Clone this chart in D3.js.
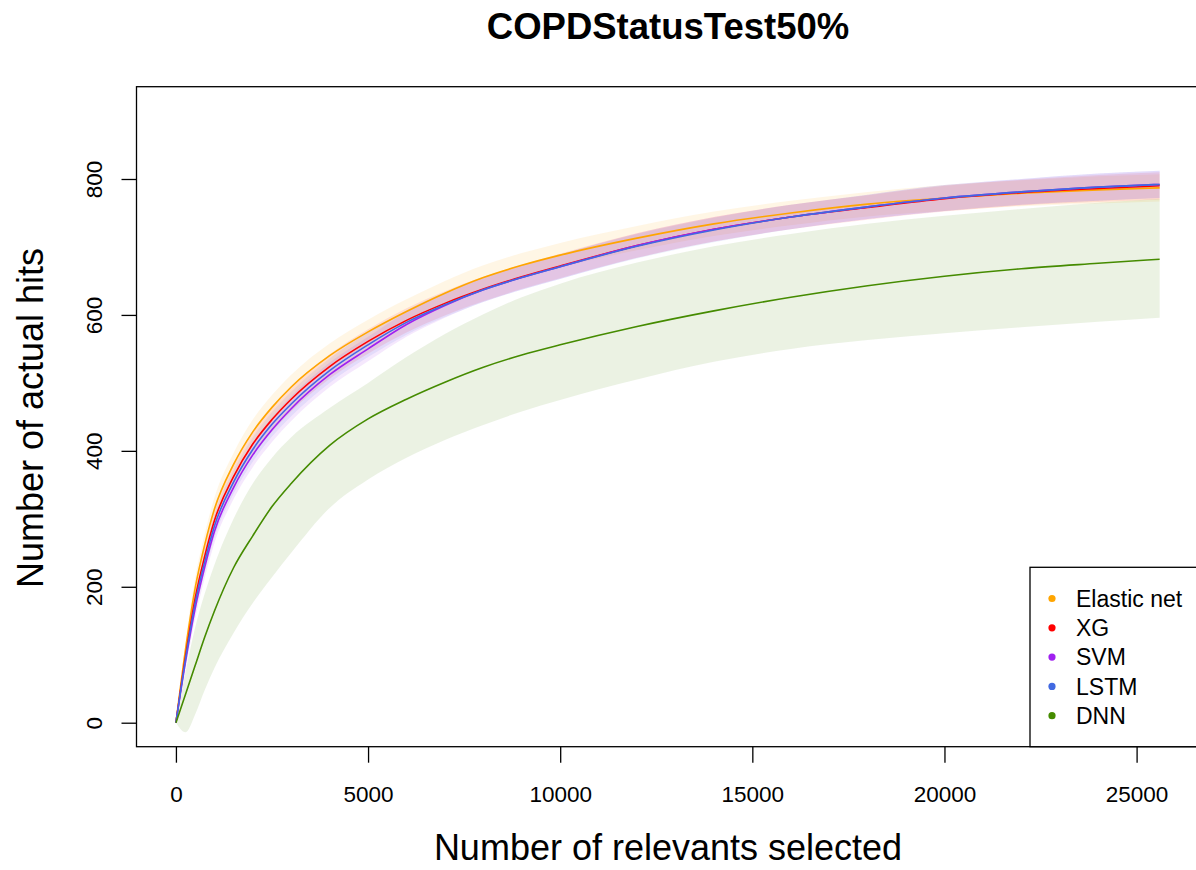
<!DOCTYPE html>
<html>
<head>
<meta charset="utf-8">
<script src="https://cdn.jsdelivr.net/npm/d3@7"></script>
<style>
  body { margin: 0; background: #fff; }
  svg text { font-family: "Liberation Sans", Arial, sans-serif; fill: #000; }
</style>
</head>
<body>
<div id="chart"></div>
<script>
// Number of relevants selected (shared x grid for every series)
var xGrid = [0, 250, 500, 750, 1000, 1500, 2000, 2500, 3000, 4000, 5000, 6000, 7000, 8000,
             9000, 10000, 12000, 14000, 16000, 18000, 20000, 22000, 24000, 25600];

// Mean curves (number of actual hits)
var elasticMean = [0, 108, 198, 262, 314, 380, 428, 464, 494, 540, 575, 605, 632, 655, 673, 688, 713, 734, 750, 763, 772, 779, 784, 787];
var xgMean      = [0, 98, 183, 245, 297, 362, 410, 446, 476, 524, 561, 592, 617, 638, 656, 672, 702, 726, 744, 758, 771, 780, 786, 790];
var svmMean     = [0, 90, 168, 229, 281, 346, 394, 431, 462, 512, 550, 586, 614, 637, 655, 671, 702, 726, 744, 759, 772, 781, 788, 792];
var lstmMean    = [0, 94, 176, 237, 289, 354, 402, 439, 469, 518, 556, 589, 615, 637, 655, 671, 701, 725, 744, 759, 772, 781, 788, 792];
var dnnMean     = [0, 42, 84, 126, 164, 228, 275, 318, 352, 408, 447, 476, 501, 523, 541, 556, 583, 606, 626, 643, 657, 668, 676, 682];

// Band limits
var elasticLo = [0, 96, 183, 246, 297, 363, 410, 446, 476, 522, 557, 587, 614, 637, 655, 670, 695, 716, 732, 745, 753, 760, 764, 767];
var elasticHi = [0, 120, 213, 278, 331, 397, 446, 482, 512, 558, 593, 623, 650, 673, 691, 706, 731, 752, 768, 781, 791, 798, 804, 807];
var xgLo      = [0, 86, 168, 229, 280, 345, 392, 428, 458, 506, 543, 574, 599, 620, 638, 654, 684, 708, 726, 740, 752, 761, 766, 770];
var xgHi      = [0, 110, 198, 261, 314, 379, 428, 464, 494, 542, 579, 610, 635, 656, 674, 690, 720, 744, 762, 776, 790, 799, 806, 810];
var svmLo     = [0, 78, 153, 213, 264, 329, 376, 413, 444, 494, 532, 568, 596, 619, 637, 653, 684, 708, 726, 741, 753, 762, 768, 772];
var svmHi     = [0, 102, 183, 245, 298, 363, 412, 449, 480, 530, 568, 604, 632, 655, 673, 689, 720, 744, 762, 777, 791, 800, 808, 812];
var lstmLo    = [0, 82, 161, 221, 272, 337, 384, 421, 451, 500, 538, 571, 597, 619, 637, 653, 683, 707, 726, 741, 753, 762, 768, 772];
var lstmHi    = [0, 106, 191, 253, 306, 371, 420, 457, 487, 536, 574, 607, 633, 655, 673, 689, 719, 743, 762, 777, 791, 800, 808, 812];
var dnnLo     = [0, -14, 12, 48, 80, 132, 176, 214, 250, 316, 358, 390, 416, 438, 458, 475, 505, 531, 550, 563, 573, 582, 590, 596];
var dnnHi     = [0, 75, 140, 190, 232, 300, 352, 390, 420, 463, 500, 538, 572, 601, 626, 646, 677, 701, 719, 734, 746, 756, 765, 771];

var seriesNames = ["Elastic net", "XG", "SVM", "LSTM", "DNN"];
var seriesColors = ["#FFA500", "#FF0000", "#A020F0", "#4169E1", "#458B00"];
var xTicks = [0, 5000, 10000, 15000, 20000, 25000];
var yTicks = [0, 200, 400, 600, 800];

var series = [
  { mean: elasticMean, lo: elasticLo, hi: elasticHi },
  { mean: xgMean, lo: xgLo, hi: xgHi },
  { mean: svmMean, lo: svmLo, hi: svmHi },
  { mean: lstmMean, lo: lstmLo, hi: lstmHi },
  { mean: dnnMean, lo: dnnLo, hi: dnnHi }
];

var svgWidth = 1196;
var svgHeight = 870;

// plot box (right edge runs off the page like the original)
var box = { left: 136.5, top: 86.7, right: 1201, bottom: 746.7 };

var svg = d3.select("#chart")
  .append("svg")
  .attr("width", svgWidth)
  .attr("height", svgHeight);

var xScale = d3.scaleLinear()
  .domain([-1026, 26676])
  .range([box.left, box.right]);

var yScale = d3.scaleLinear()
  .domain([-35.3, 935.8])
  .range([box.bottom, box.top]);

svg.append("clipPath")
  .attr("id", "plotClip")
  .append("rect")
  .attr("x", box.left)
  .attr("y", box.top)
  .attr("width", box.right - box.left)
  .attr("height", box.bottom - box.top);

var plot = svg.append("g").attr("clip-path", "url(#plotClip)");

// bands first
var area = d3.area()
  .x((d, i) => xScale(xGrid[i]))
  .y0(d => yScale(d[0]))
  .y1(d => yScale(d[1]))
  .curve(d3.curveMonotoneX);

series.forEach(function(s, k) {
  var pts = s.lo.map((v, i) => [v, s.hi[i]]);
  plot.append("path")
    .datum(pts)
    .attr("d", area)
    .attr("fill", seriesColors[k])
    .attr("fill-opacity", k === 4 ? 0.11 : 0.1)
    .attr("stroke", "none");
});

// mean lines on top
var line = d3.line()
  .x((d, i) => xScale(xGrid[i]))
  .y(d => yScale(d))
  .curve(d3.curveMonotoneX);

series.forEach(function(s, k) {
  plot.append("path")
    .datum(s.mean)
    .attr("d", line)
    .attr("fill", "none")
    .attr("stroke", seriesColors[k])
    .attr("stroke-width", 1.6);
});

// axes
var bottomAxis = d3.axisBottom(xScale).tickValues(xTicks).tickSize(16).tickFormat(d3.format("d"));
var xAxis = svg.append("g")
  .attr("transform", `translate(0, ${box.bottom})`)
  .call(bottomAxis);
xAxis.select(".domain").remove();
xAxis.selectAll("line").attr("stroke", "#000").attr("stroke-width", 1.3);
xAxis.selectAll("text")
  .attr("dy", null)
  .attr("y", 55)
  .attr("font-size", 22.5)
  .attr("font-family", "Liberation Sans, Arial, sans-serif");

var leftAxis = d3.axisLeft(yScale).tickValues(yTicks).tickSize(15).tickFormat(d3.format("d"));
var yAxis = svg.append("g")
  .attr("transform", `translate(${box.left}, 0)`)
  .call(leftAxis);
yAxis.select(".domain").remove();
yAxis.selectAll("line").attr("stroke", "#000").attr("stroke-width", 1.3);
yAxis.selectAll("text")
  .attr("x", null)
  .attr("dy", null)
  .attr("text-anchor", "middle")
  .attr("transform", "translate(-35, 0) rotate(-90)")
  .attr("font-size", 22.5)
  .attr("font-family", "Liberation Sans, Arial, sans-serif");

// plot box
svg.append("rect")
  .attr("x", box.left)
  .attr("y", box.top)
  .attr("width", box.right - box.left)
  .attr("height", box.bottom - box.top)
  .attr("fill", "none")
  .attr("stroke", "#000")
  .attr("stroke-width", 1.3);

// titles
svg.append("text")
  .attr("x", 668)
  .attr("y", 39)
  .attr("text-anchor", "middle")
  .attr("font-size", 36.5)
  .attr("font-weight", "bold")
  .text("COPDStatusTest50%");

svg.append("text")
  .attr("x", 668)
  .attr("y", 860)
  .attr("text-anchor", "middle")
  .attr("font-size", 36)
  .text("Number of relevants selected");

svg.append("text")
  .attr("transform", "translate(43, 418) rotate(-90)")
  .attr("text-anchor", "middle")
  .attr("font-size", 36)
  .text("Number of actual hits");

// legend
var legend = svg.append("g");
legend.append("rect")
  .attr("x", 1030)
  .attr("y", 567.3)
  .attr("width", 200)
  .attr("height", box.bottom - 567.3)
  .attr("fill", "#fff")
  .attr("stroke", "#000")
  .attr("stroke-width", 1.3);

var rows = legend.selectAll("g.row")
  .data(seriesNames)
  .enter()
  .append("g")
  .attr("class", "row")
  .attr("transform", (d, i) => `translate(0, ${598.5 + i * 29.3})`);

rows.append("circle")
  .attr("cx", 1052)
  .attr("cy", 0)
  .attr("r", 3.6)
  .attr("fill", (d, i) => seriesColors[i]);

rows.append("text")
  .attr("x", 1076)
  .attr("y", 8.3)
  .attr("font-size", 23)
  .text(d => d);
</script>
</body>
</html>
